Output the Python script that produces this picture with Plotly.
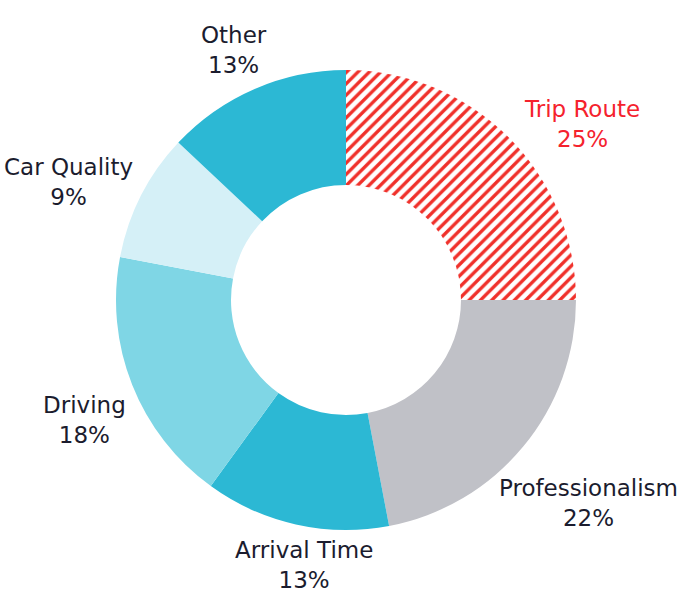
import math
import plotly.graph_objects as go

labels = ["Trip Route", "Professionalism", "Arrival Time", "Driving", "Car Quality", "Other"]
values = [25, 22, 13, 18, 9, 13]
colors = ["#ffffff", "#c0c1c7", "#2cb8d4", "#7fd6e5", "#d5f0f7", "#2cb8d4"]
text_colors = ["#f5222d", "#1b1c2e", "#1b1c2e", "#1b1c2e", "#1b1c2e", "#1b1c2e"]
shapes = ["/", "", "", "", "", ""]

# layout: small nudges applied to label placement (angle in degrees, radial pad in px)
label_nudge_deg = [8.3, 0.4, -3.5, -3.0, -3.9, -0.8]
label_pad_px = [0, -1, 0, 8, 0, 7]

W, H = 687, 603
cx, cy, R = 346, 300, 230
FONT = "DejaVu Sans"
FS = 23
CHAR_W = 12.2   # approx. rendered width per character
LINE_H = 56     # approx. height of a two-line label

fig = go.Figure(go.Pie(
    labels=labels,
    values=values,
    sort=False,
    direction="clockwise",
    rotation=0,
    hole=0.5,
    marker=dict(
        colors=colors,
        line=dict(width=0),
        pattern=dict(shape=shapes, fgcolor="#f0302a", bgcolor="#ffffff", size=8, solidity=0.42),
    ),
    textinfo="none",
    hoverinfo="label+percent",
    showlegend=False,
    domain=dict(x=[(cx - R) / W, (cx + R) / W], y=[(H - cy - R) / H, (H - cy + R) / H]),
))

# outside labels placed around the ring, tangent to the outer edge
total = sum(values)
cum = 0.0
annotations = []
for lab, val, col, nd, pad in zip(labels, values, text_colors, label_nudge_deg, label_pad_px):
    mid = (cum + val / 2) / total * 2 * math.pi + math.radians(nd)
    cum += val
    s, c = math.sin(mid), math.cos(mid)
    w = CHAR_W * max(len(lab), 3)
    d = R - 1 + pad + abs(s) * w / 2 + abs(c) * LINE_H / 2
    x = cx + d * s
    y = cy - d * c
    annotations.append(dict(
        x=x / W, y=1 - y / H, xref="paper", yref="paper",
        text=f"{lab}<br>{val}%", showarrow=False,
        xanchor="center", yanchor="middle", align="center",
        font=dict(family=FONT, size=FS, color=col),
    ))

fig.update_layout(
    width=W, height=H,
    margin=dict(l=0, r=0, t=0, b=0),
    paper_bgcolor="white",
    plot_bgcolor="white",
    annotations=annotations,
)
fig.write_html("out.html")
